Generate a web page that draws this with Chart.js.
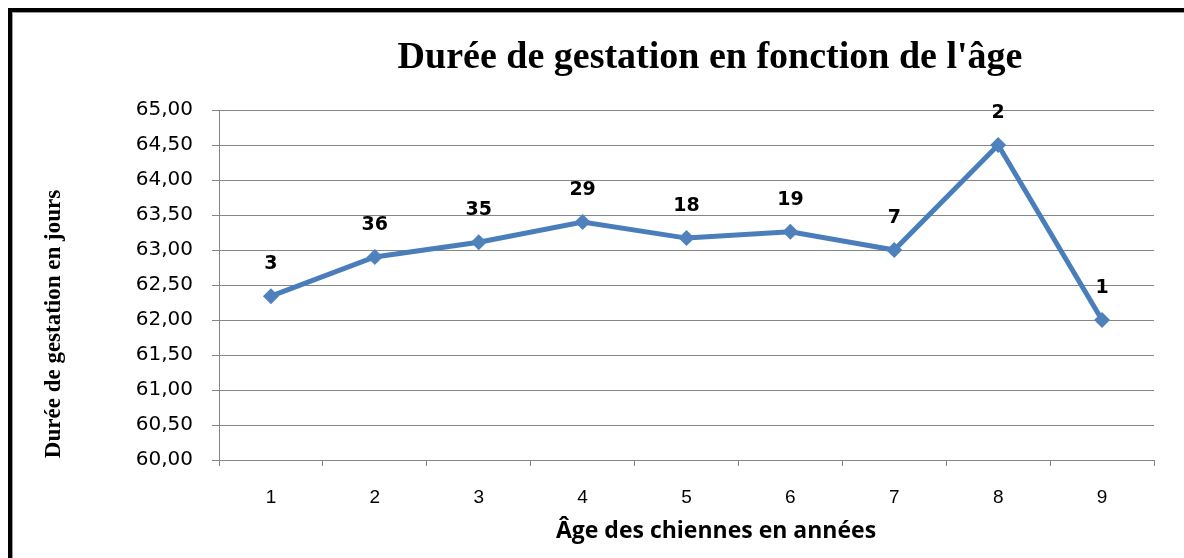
<!DOCTYPE html>
<html lang="fr">
<head>
<meta charset="utf-8">
<title>Durée de gestation en fonction de l'âge</title>
<script src="https://cdn.jsdelivr.net/npm/chart.js@4"></script>
<style>
  html, body { margin: 0; padding: 0; background: #fff; }
  #wrap { position: relative; width: 1184px; height: 558px; overflow: hidden; }
  #frame {
    position: absolute; left: 8px; top: 8px; width: 1180px; height: 560px;
    border-top: 4px solid #000; border-left: 4px solid #000;
    box-shadow: inset 1px 1px 0 #999; pointer-events: none;
  }
  canvas { display: block; }
</style>
</head>
<body>
<div id="wrap">
  <canvas id="chart" width="1184" height="558"></canvas>
  <div id="frame"></div>
</div>
<script>
// ── Data ──
const ages = ['1', '2', '3', '4', '5', '6', '7', '8', '9'];
const gestationDays = [62.34, 62.90, 63.11, 63.40, 63.17, 63.26, 63.00, 64.50, 62.00];
const litterCounts = [3, 36, 35, 29, 18, 19, 7, 2, 1];

const TITLE = "Durée de gestation en fonction de l'âge";
const X_TITLE = 'Âge des chiennes en années';
const Y_TITLE = 'Durée de gestation en jours';

const Y_MIN = 60;
const Y_MAX = 65;
const Y_STEP = 0.5;

const LINE_COLOR = '#4a7ebb';
const GRID_COLOR = '#868686';

// ── Plugins ──
// labels above each point (litter counts)
const pointLabels = {
  id: 'pointLabels',
  afterDatasetsDraw(chart) {
    const ctx = chart.ctx;
    const meta = chart.getDatasetMeta(0);
    ctx.save();
    ctx.font = 'bold 19px "DejaVu Sans"';
    ctx.fillStyle = '#000';
    ctx.textAlign = 'center';
    ctx.textBaseline = 'middle';
    meta.data.forEach((pt, i) => {
      ctx.fillText(String(litterCounts[i]), pt.x, pt.y - 32);
    });
    ctx.restore();
  }
};

// chart title + axis titles
const titles = {
  id: 'titles',
  afterDraw(chart) {
    const ctx = chart.ctx;
    ctx.save();
    ctx.fillStyle = '#000';
    ctx.textAlign = 'center';

    ctx.font = 'bold 38px "Liberation Serif"';
    ctx.textBaseline = 'alphabetic';
    ctx.fillText(TITLE, 710, 68);

    ctx.font = 'bold 23px "Open Sans"';
    ctx.fillText(X_TITLE, 716, 538);

    ctx.translate(54, 324);
    ctx.rotate(-Math.PI / 2);
    ctx.font = 'bold 23px "Liberation Serif"';
    ctx.textBaseline = 'middle';
    ctx.fillText(Y_TITLE, 0, 0);
    ctx.restore();
  }
};

// ── Chart ──
new Chart(document.getElementById('chart'), {
  type: 'line',
  data: {
    labels: ages,
    datasets: [{
      data: gestationDays,
      borderColor: LINE_COLOR,
      backgroundColor: '#4f81bd',
      borderWidth: 5,
      pointStyle: 'rectRot',
      pointRadius: 8,
      pointBorderWidth: 0,
      tension: 0,
      fill: false,
    }]
  },
  options: {
    responsive: false,
    animation: false,
    layout: { padding: { top: 110, right: 30, left: 0, bottom: 0 } },
    plugins: {
      legend: { display: false },
      tooltip: { enabled: false },
    },
    scales: {
      x: {
        offset: true,
        grid: { drawOnChartArea: false, offset: true, tickLength: 6, color: GRID_COLOR },
        border: { color: GRID_COLOR },
        ticks: { padding: 20, color: '#000', font: { family: 'Liberation Sans', size: 19 } },
        afterFit(scale) { scale.height = 98; },
      },
      y: {
        min: Y_MIN,
        max: Y_MAX,
        grid: { color: GRID_COLOR, tickLength: 7 },
        border: { color: GRID_COLOR },
        ticks: {
          stepSize: Y_STEP,
          padding: 19,
          color: '#000',
          font: { family: 'DejaVu Sans', size: 20 },
          callback: v => v.toFixed(2).replace('.', ','),
        },
        afterFit(scale) { scale.width = 219; },
      }
    }
  },
  plugins: [pointLabels, titles]
});
</script>
</body>
</html>
